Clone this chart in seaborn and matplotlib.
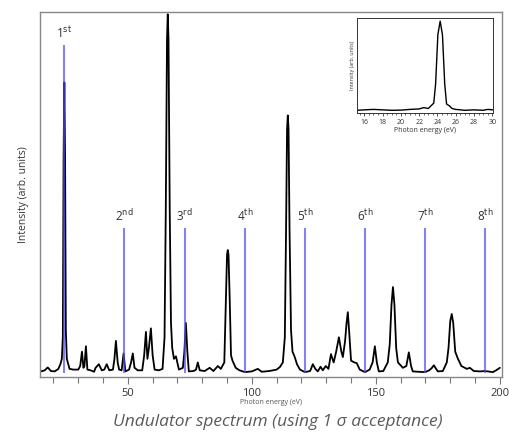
import numpy as np
import matplotlib
matplotlib.use("Agg")
import matplotlib.pyplot as plt
import seaborn as sns

# main spectrum vertices (photon energy eV, intensity arb.) - same layout, 8 per row
energy = [15, 16.5, 17.7, 19, 20.5, 22, 22.8, 23.4,
          23.8, 24.1, 24.4, 24.7, 25.0, 25.4, 25.8, 26.5,
          28, 30, 30.8, 31.5, 32.1, 32.5, 33.1, 33.7,
          35, 36.4, 37, 38.3, 39.5, 40.5, 41.5, 42.5,
          44, 44.6, 45.2, 45.9, 46.5, 47.5, 48.3, 49,
          50.5, 51.3, 52, 52.7, 54, 55.8, 56.6, 57.3,
          57.9, 58.5, 59.3, 60, 60.8, 62.5, 64, 64.8,
          65.3, 65.8, 66.1, 66.4, 66.9, 67.4, 67.9, 68.6,
          69.4, 70.6, 72.2, 72.8, 73.4, 74.0, 74.6, 76.5,
          77.5, 78.2, 79, 81, 83, 84.5, 86.3, 87.5,
          88.9, 89.5, 90.0, 90.3, 90.6, 91.1, 91.6, 92.2,
          93.5, 95, 97.2, 100, 102.4, 104, 107, 110,
          111.3, 112.5, 113.3, 113.8, 114.2, 114.5, 114.8, 115.2,
          115.8, 116.4, 117.3, 118.2, 119.4, 121.4, 123.5, 124.6,
          125.6, 126.6, 127.7, 128.6, 129.8, 130.9, 131.9, 133,
          134, 135.1, 136.1, 136.7, 137.6, 138.2, 138.7, 139.2,
          140.0, 141.3, 142.3, 143.5, 145.6, 147.5, 148.7, 149.6,
          150.4, 151.2, 153, 154.8, 155.6, 156.3, 156.9, 157.5,
          158.2, 158.9, 160.9, 162.3, 163.3, 164.2, 164.9, 167,
          169.8, 171.5, 172.5, 173.4, 174.3, 175, 177, 178.6,
          179.3, 180.0, 180.6, 181.2, 182.0, 183.1, 184.5, 186.7,
          187.9, 189.5, 192, 194, 196, 197.2, 198.5, 200]
intensity = [0.005, 0.008, 0.016, 0.006, 0.005, 0.012, 0.025, 0.04,
             0.1, 0.6, 0.81, 0.6, 0.12, 0.04, 0.03, 0.012,
             0.01, 0.01, 0.02, 0.06, 0.015, 0.02, 0.075, 0.01,
             0.008, 0.004, 0.015, 0.025, 0.008, 0.01, 0.025, 0.008,
             0.01, 0.04, 0.09, 0.03, 0.01, 0.008, 0.055, 0.005,
             0.01, 0.03, 0.055, 0.015, 0.008, 0.008, 0.05, 0.115,
             0.04, 0.07, 0.125, 0.05, 0.01, 0.008, 0.012, 0.1,
             0.45, 0.93, 1.0, 0.93, 0.45, 0.14, 0.07, 0.04,
             0.047, 0.01, 0.015, 0.06, 0.14, 0.06, 0.005, 0.006,
             0.01, 0.03, 0.008, 0.006, 0.015, 0.006, 0.02, 0.012,
             0.03, 0.2, 0.33, 0.343, 0.33, 0.2, 0.05, 0.035,
             0.015, 0.008, 0.003, 0.005, 0.012, 0.004, 0.006, 0.01,
             0.017, 0.03, 0.1, 0.4, 0.68, 0.718, 0.68, 0.4,
             0.12, 0.06, 0.045, 0.025, 0.01, 0.003, 0.006, 0.025,
             0.012, 0.005, 0.018, 0.008, 0.02, 0.012, 0.053, 0.03,
             0.06, 0.1, 0.06, 0.045, 0.09, 0.14, 0.17, 0.12,
             0.035, 0.03, 0.028, 0.01, 0.003, 0.01, 0.03, 0.075,
             0.03, 0.005, 0.006, 0.03, 0.08, 0.19, 0.24, 0.19,
             0.07, 0.03, 0.015, 0.02, 0.058, 0.02, 0.005, 0.004,
             0.003, 0.008, 0.014, 0.022, 0.012, 0.005, 0.006, 0.03,
             0.07, 0.145, 0.165, 0.14, 0.06, 0.04, 0.02, 0.012,
             0.015, 0.006, 0.005, 0.006, 0.004, 0.003, 0.008, 0.015]

# harmonic markers
harmonic_pos = [24.4, 48.6, 73.0, 97.2, 121.4, 145.6, 169.8, 194.0]
harmonic_top = [0.914, 0.404, 0.404, 0.404, 0.404, 0.404, 0.404, 0.404]
harmonic_num = ["1", "2", "3", "4", "5", "6", "7", "8"]
harmonic_sfx = ["st", "nd", "rd", "th", "th", "th", "th", "th"]

# inset: first harmonic, single shot
inset_energy = [15.2, 16, 17, 18, 19, 20, 21, 22, 22.5, 23, 23.3, 23.6, 23.8,
                24.05, 24.3, 24.55, 24.8, 25.0, 25.3, 25.6, 26, 27, 28, 29, 29.5, 30.1]
inset_int = [0.01, 0.015, 0.02, 0.015, 0.01, 0.012, 0.02, 0.025, 0.04, 0.03, 0.06, 0.09, 0.3,
             0.85, 1.0, 0.85, 0.3, 0.08, 0.06, 0.03, 0.02, 0.01, 0.015, 0.01, 0.02, 0.015]

sns.set_style("white")
plt.rcParams["font.family"] = ["Open Sans", "DejaVu Sans"]

fig = plt.figure(figsize=(5.1, 4.32), dpi=100)
ax = fig.add_axes([0.078, 0.127, 0.906, 0.845])

sns.lineplot(x=energy, y=intensity, ax=ax, color="black", lw=1.3, sort=False,
             estimator=None)
ax.lines[-1].set_solid_joinstyle("round")
ax.vlines(harmonic_pos, 0, harmonic_top, color=(0.3, 0.3, 0.95), alpha=0.7, lw=1.5,
          zorder=3)
for xp, yt, n, s in zip(harmonic_pos, harmonic_top, harmonic_num, harmonic_sfx):
    ax.text(xp, yt + 0.035, n + r"$^{\mathrm{" + s + "}}$", ha="center", va="center",
            fontsize=8.5, color="#333333")

ax.set_xlim(14.5, 200.8)
ax.set_ylim(-0.011, 1.006)
ax.set_xticks([50, 100, 150, 200])
ax.set_xticks(np.arange(20, 201, 10), minor=True)
ax.set_yticks([])
ax.tick_params(axis="x", which="both", direction="out", bottom=True, colors="#777777",
               labelcolor="#333333", labelsize=8, pad=2.5)
ax.tick_params(axis="x", which="major", length=5, width=0.8)
ax.tick_params(axis="x", which="minor", length=4, width=0.8)
for sp in ax.spines.values():
    sp.set_color("#888888")
    sp.set_linewidth(1.0)
ax.set_ylabel("Intensity (arb. units)", fontsize=7.5, color="#333333", labelpad=8)
ax.set_xlabel("Photon energy (eV)", fontsize=5, color="#555555", labelpad=0.5)

# inset
axi = fig.add_axes([0.7, 0.738, 0.267, 0.22])
sns.lineplot(x=inset_energy, y=inset_int, ax=axi, color="black", lw=1.0, sort=False,
             estimator=None)
axi.set_xlim(15.2, 30.1)
axi.set_ylim(-0.022, 1.033)
axi.set_xticks(np.arange(16, 31, 2))
axi.set_xticks(np.arange(15.5, 30.1, 0.5), minor=True)
axi.set_yticks([])
axi.tick_params(axis="x", which="both", direction="out", bottom=True, labelsize=5,
                pad=1.5, colors="#333333")
axi.tick_params(axis="x", which="major", length=2.5, width=0.6)
axi.tick_params(axis="x", which="minor", length=1.5, width=0.5)
for sp in axi.spines.values():
    sp.set_color("#333333")
    sp.set_linewidth(0.7)
axi.set_xlabel("Photon energy (eV)", fontsize=5, color="#333333", labelpad=1)
axi.set_ylabel("Intensity (arb. units)", fontsize=3.8, color="#333333", labelpad=1.5)

fig.text(0.545, 0.024, "Undulator spectrum (using 1 \u03c3 acceptance)", ha="center",
         va="center", fontsize=12.5, style="italic", color="#5a5a5a")

fig.savefig("out.png", dpi=100)
